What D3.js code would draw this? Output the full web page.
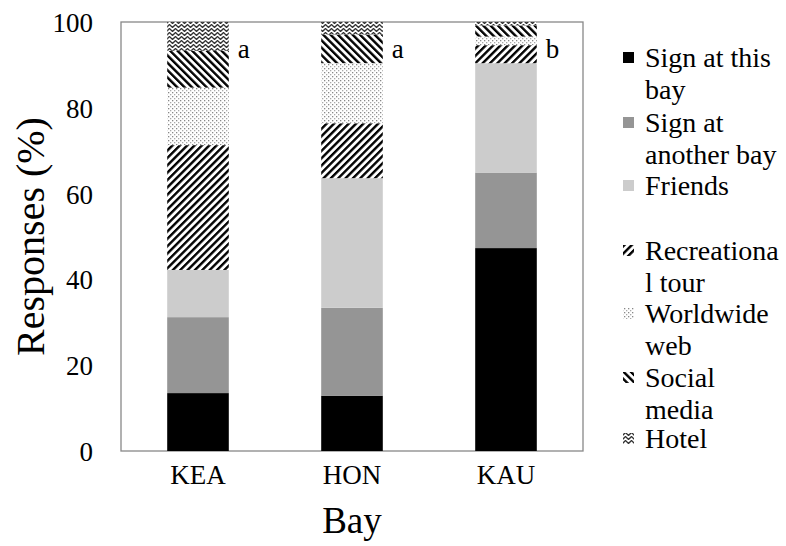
<!DOCTYPE html>
<html><head><meta charset="utf-8">
<script src="https://cdn.jsdelivr.net/npm/d3@7"></script>
<style>body{margin:0;background:#fff}text{font-family:"Liberation Serif","Times New Roman",serif;fill:#000}</style>
</head><body><svg id="c" width="786" height="546"></svg>
<script>
const bays = ["KEA","HON","KAU"];
const sources = ["Sign at this bay","Sign at another bay","Friends","Recreational tour","Worldwide web","Social media","Hotel"];
const signThisBay    = [13.5, 12.9, 47.3];
const signAnotherBay = [17.7, 20.5, 17.6];
const friends        = [11.0, 30.2, 25.5];
const recTour        = [29.1, 12.8, 4.2];
const worldwideWeb   = [13.4, 14.0, 2.0];
const socialMedia    = [8.6, 6.7, 2.6];
const hotel          = [6.7, 2.9, 0.8];
const letters = ["a","a","b"];
const yTicks = [0,20,40,60,80,100];
const legendLines = [["Sign at this","bay"],["Sign at","another bay"],["Friends"],["Recreationa","l tour"],["Worldwide","web"],["Social","media"],["Hotel"]];

const seriesVals = [signThisBay,signAnotherBay,friends,recTour,worldwideWeb,socialMedia,hotel];
const rows = bays.map((b,i)=>{const r={bay:b};sources.forEach((s,j)=>r[s]=seriesVals[j][i]);return r;});
const stacked = d3.stack().keys(sources)(rows);

const svg = d3.select("#c");
const L=121,R=583,T=22,B=451;
const x = d3.scaleBand().domain(bays).range([L,R]).paddingInner(0.6).paddingOuter(0.3);
const y = d3.scaleLinear().domain([0,100]).range([B,T]);

const defs = svg.append("defs");
function stripes(id,angle){
  const p=defs.append("pattern").attr("id",id).attr("patternUnits","userSpaceOnUse")
    .attr("width",5.2).attr("height",5.2).attr("patternTransform",`rotate(${angle})`);
  p.append("rect").attr("width",5.2).attr("height",5.2).attr("fill","#fff");
  p.append("rect").attr("x",0).attr("width",2.4).attr("height",5.2).attr("fill","#000");
}
stripes("rec",45); stripes("soc",-45);
const dp=defs.append("pattern").attr("id","www").attr("patternUnits","userSpaceOnUse").attr("width",4).attr("height",4);
dp.append("rect").attr("width",4).attr("height",4).attr("fill","#fff");
dp.append("rect").attr("x",0).attr("y",0).attr("width",1.3).attr("height",1.3).attr("fill","#888");
dp.append("rect").attr("x",2).attr("y",2).attr("width",1.3).attr("height",1.3).attr("fill","#aaa");
const hp=defs.append("pattern").attr("id","hot").attr("patternUnits","userSpaceOnUse").attr("width",6).attr("height",4);
hp.append("rect").attr("width",6).attr("height",4).attr("fill","#fff");
hp.append("path").attr("d","M-1.5,3.5 L1.5,0.5 L4.5,3.5 L7.5,0.5").attr("fill","none").attr("stroke","#333").attr("stroke-width",1.3);
const fills = ["#000","#959595","#cccccc","url(#rec)","url(#www)","url(#soc)","url(#hot)"];
const color = d3.scaleOrdinal().domain(sources).range(fills);

// box
svg.append("rect").attr("x",L).attr("y",T).attr("width",R-L).attr("height",B-T)
  .attr("fill","none").attr("stroke","#888").attr("stroke-width",1.3);

svg.append("g").selectAll("g").data(stacked).join("g").attr("fill",d=>color(d.key))
  .selectAll("rect").data(d=>d).join("rect")
  .attr("x",d=>x(d.data.bay)).attr("width",x.bandwidth())
  .attr("y",d=>y(d[1])).attr("height",d=>y(d[0])-y(d[1]));

// axes
const ya = svg.append("g").attr("transform",`translate(${L},0)`)
  .call(d3.axisLeft(y).tickValues(yTicks).tickSize(0).tickPadding(28));
ya.select(".domain").remove();
ya.selectAll("text").style("font-size","27px").style("font-family","Liberation Serif").attr("dy","0.35em");
const xa = svg.append("g").attr("transform",`translate(0,${B})`)
  .call(d3.axisBottom(x).tickSize(0).tickPadding(14));
xa.select(".domain").remove();
xa.selectAll("text").style("font-size","27px").style("font-family","Liberation Serif").attr("dy","0.71em");

svg.append("text").attr("transform",`translate(44,${(T+B)/2}) rotate(-90)`).attr("text-anchor","middle")
  .style("font-size","40px").text("Responses (%)");
svg.append("text").attr("x",(L+R)/2).attr("y",533).attr("text-anchor","middle")
  .style("font-size","37px").text("Bay");

svg.append("g").selectAll("text").data(bays).join("text")
  .attr("x",d=>x(d)+x.bandwidth()+9).attr("y",y(91.5)).style("font-size","27px")
  .text((d,i)=>letters[i]);

// legend
const legY = [57,122,185,250,313,377,438];
const lg = svg.append("g");
sources.forEach((s,i)=>{
  lg.append("rect").attr("x",623).attr("y",legY[i]-5).attr("width",11).attr("height",11).attr("fill",color(s));
  legendLines[i].forEach((t,k)=>{
    lg.append("text").attr("x",645).attr("y",legY[i]+k*32).attr("dy","0.35em").style("font-size","28px").text(t);
  });
});
</script></body></html>
